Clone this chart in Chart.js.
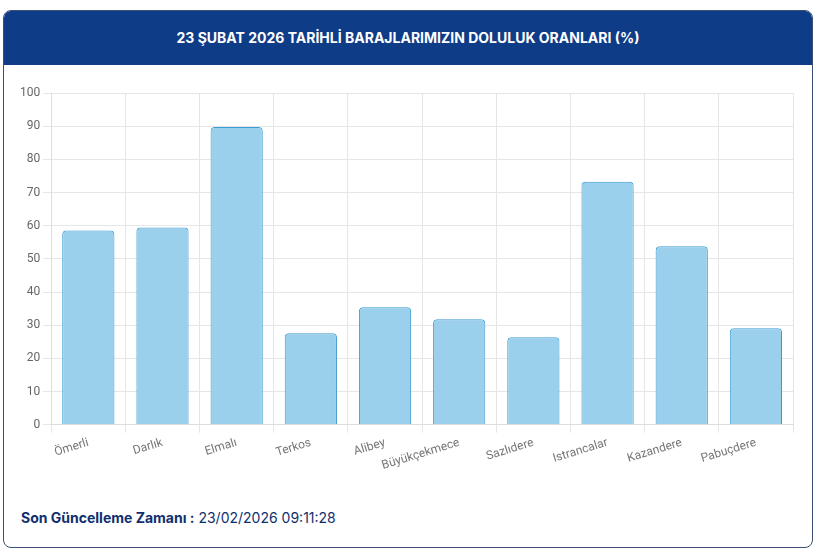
<!DOCTYPE html>
<html><head><meta charset="utf-8">
<script src="https://cdn.jsdelivr.net/npm/chart.js@4"></script>
<style>
body{margin:0;background:#fff;font-family:Roboto,"Open Sans",sans-serif;}
#card{position:absolute;left:3px;top:10px;width:808px;height:536px;border:1px solid #3b4f78;border-radius:8px;overflow:hidden;}
#hdr{height:54px;background:#0f3c87;color:#fff;font-weight:bold;font-size:14px;text-align:center;line-height:54px;font-family:Inter,"Open Sans",sans-serif;}
#wrap{position:absolute;left:13px;top:72px;width:778px;height:393px;}
#foot{position:absolute;left:17px;top:498px;font-size:14px;color:#0f2f6e;font-family:Inter,"Open Sans",sans-serif;}
</style></head><body>
<div id="card"><div id="hdr">23 ŞUBAT 2026 TARİHLİ BARAJLARIMIZIN DOLULUK ORANLARI (%)</div>
<div id="wrap"><canvas id="c"></canvas></div>
<div id="foot"><b>Son Güncelleme Zamanı :</b> 23/02/2026 09:11:28</div></div>
<script>
const categories=["Ömerli","Darlık","Elmalı","Terkos","Alibey","Büyükçekmece","Sazlıdere","Istrancalar","Kazandere","Pabuçdere"];
const values=[58.6,59.5,89.8,27.6,35.4,31.8,26.4,73.3,53.8,29.1];
new Chart(document.getElementById('c'),{type:'bar',
data:{labels:categories,datasets:[{data:values,backgroundColor:'rgba(155,208,237,1)',borderColor:'#3a9bd0',borderWidth:1,borderRadius:{topLeft:4,topRight:4},borderSkipped:'bottom',categoryPercentage:0.8,barPercentage:0.88}]},
options:{responsive:true,maintainAspectRatio:false,animation:false,
plugins:{legend:{display:false},tooltip:{enabled:false}},
layout:{padding:{top:8,right:2}},
scales:{y:{min:0,max:100,ticks:{stepSize:10,color:'#666',font:{size:12,family:'Roboto'}},grid:{color:'#e6e6e6'},border:{color:'#ddd'}},
x:{ticks:{minRotation:17,maxRotation:17,color:'#777',font:{size:12,family:'Roboto'}},grid:{color:'#e6e6e6',offset:true},border:{color:'#ddd'}}}}});
</script></body></html>
